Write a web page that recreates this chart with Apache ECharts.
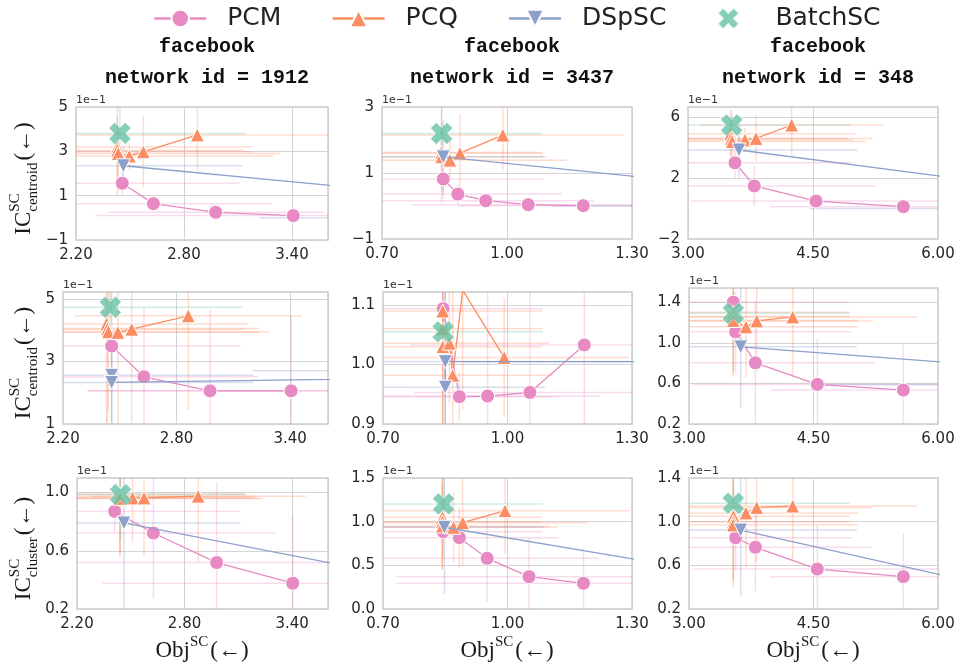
<!DOCTYPE html>
<html>
<head>
<meta charset="utf-8">
<script src="https://cdn.jsdelivr.net/npm/echarts@6/dist/echarts.min.js"></script>
<style>
  html, body { margin: 0; background: #fff; }
  #chart { width: 959px; height: 666px; }
</style>
</head>
<body>
<div id="chart"></div>
<script>
// each point: [obj, ic, objErr, icErr]  (ic in units of 1e-1)
const pcmR1_1912 = [[2.457,1.56,0.65,0.5],[2.63,0.64,0.66,0.3],[2.976,0.25,0.6,0.2],[3.407,0.10,1.1,0.25]];
const pcqR1_1912 = [[2.43,3.2,0.75,2.2],[2.43,3.05,0.7,1.5],[2.435,2.9,0.9,1.0],[2.496,2.79,0.8,0.6],[2.574,2.98,0.6,1.6],[2.874,3.74,0.75,1.6]];
const dspR1_1912 = [[2.463,2.35,0.66,0.9],[5.5,0.0,2.28,0.3]];
const batR1_1912 = [[2.444,3.81,0.7,1.5]];

const pcmR1_3437 = [[0.847,0.82,0.24,0.6],[0.882,0.36,0.25,0.3],[0.949,0.16,0.26,0.2],[1.051,0.04,0.28,0.2],[1.183,0.01,0.3,0.15]];
const pcqR1_3437 = [[0.843,1.62,0.24,1.5],[0.843,1.49,0.25,1.0],[0.863,1.39,0.28,0.6],[0.887,1.6,0.2,1.2],[0.99,2.15,0.29,1.1]];
const dspR1_3437 = [[0.847,1.49,0.24,1.1],[2.0,0.0,0.89,0.2]];
const batR1_3437 = [[0.843,2.2,0.24,1.0]];

const pcmR1_348 = [[3.564,3.0,1.4,1.0],[3.796,1.48,1.45,1.3],[4.536,0.49,1.5,0.5],[5.584,0.12,1.6,0.5]];
const pcqR1_348 = [[3.51,4.9,1.5,1.5],[3.52,4.6,1.4,1.2],[3.53,4.4,1.6,1.0],[3.684,4.5,1.3,0.8],[3.816,4.6,1.4,1.5],[4.244,5.48,1.1,2.0]];
const dspR1_348 = [[3.612,3.84,1.42,1.8],[9.0,0.0,4.54,0.3]];
const batR1_348 = [[3.524,5.48,1.42,1.0]];

const pcmR2_1912 = [[2.457,3.49,0.68,0.6],[2.628,2.51,0.6,2.2],[2.977,2.06,0.65,2.6],[3.405,2.06,1.07,2.4]];
const pcqR2_1912 = [[2.43,4.2,0.75,3.2],[2.435,4.05,0.8,3.0],[2.44,3.95,0.85,2.5],[2.49,3.93,0.75,3.0],[2.563,4.03,0.6,3.0],[2.862,4.46,0.6,3.0]];
const dspR2_1912 = [[2.457,2.56,0.75,1.5],[2.457,2.33,0.75,3.0],[7.0,2.7,3.8,0.3]];
const batR2_1912 = [[2.45,4.73,0.7,1.0]];

const pcmR2_3437 = [[0.845,1.094,0.24,0.04],[0.884,0.946,0.24,0.04],[0.952,0.947,0.27,0.2],[1.054,0.953,0.28,0.2],[1.185,1.033,0.42,0.15]];
const pcqR2_3437 = [[0.844,1.09,0.24,0.2],[0.844,1.06,0.24,0.2],[0.844,1.03,0.24,0.2],[0.86,1.036,0.24,0.1],[0.868,0.982,0.24,0.15],[0.892,1.125,0.25,0.2],[0.992,1.012,0.3,0.1]];
const dspR2_3437 = [[0.85,0.962,0.24,0.2],[0.85,1.005,0.24,0.2],[1.6,1.005,0.49,0.015]];
const batR2_3437 = [[0.845,1.055,0.24,0.05]];

const pcmR2_348 = [[3.534,1.40,1.4,0.1],[3.562,1.108,1.4,0.4],[3.80,0.803,1.44,0.6],[4.546,0.59,1.5,0.45],[5.582,0.534,1.6,0.45]];
const pcqR2_348 = [[3.534,1.30,1.4,0.6],[3.534,1.26,1.4,0.6],[3.534,1.22,1.5,0.5],[3.687,1.157,1.35,0.5],[3.816,1.216,1.4,0.5],[4.25,1.255,1.5,0.6]];
const dspR2_348 = [[3.623,0.96,1.4,0.6],[9.6,0.59,5.06,0.02]];
const batR2_348 = [[3.534,1.29,1.4,0.2]];

const pcmR3_1912 = [[2.41,0.871,0.7,0.15],[2.626,0.722,0.68,0.45],[2.979,0.519,0.8,0.55],[3.403,0.377,1.06,0.47]];
const pcqR3_1912 = [[2.44,0.99,0.7,0.4],[2.44,0.975,0.75,0.4],[2.44,0.96,0.8,0.4],[2.51,0.963,0.7,0.3],[2.574,0.963,0.6,0.4],[2.876,0.975,0.6,0.45]];
const dspR3_1912 = [[2.462,0.791,0.65,0.7],[4.6,0.28,1.0,0.1]];
const batR3_1912 = [[2.443,0.986,0.7,0.3]];

const pcmR3_3437 = [[0.845,0.885,0.24,0.3],[0.884,0.817,0.24,0.35],[0.951,0.58,0.27,0.5],[1.052,0.37,0.32,0.45],[1.183,0.294,0.45,0.4]];
const pcqR3_3437 = [[0.843,1.05,0.24,0.6],[0.843,1.0,0.24,0.5],[0.843,0.95,0.26,0.5],[0.87,0.936,0.25,0.4],[0.892,0.989,0.3,0.5],[0.994,1.126,0.3,0.5]];
const dspR3_3437 = [[0.848,0.936,0.24,0.77],[1.8,0.174,0.5,0.1]];
const batR3_3437 = [[0.846,1.203,0.24,0.3]];

const pcmR3_348 = [[3.562,0.853,1.4,0.3],[3.80,0.765,1.4,0.4],[4.546,0.566,1.5,0.4],[5.582,0.496,1.6,0.4]];
const pcqR3_348 = [[3.534,1.05,1.4,0.6],[3.534,1.0,1.4,0.6],[3.534,0.97,1.5,0.5],[3.687,1.08,1.35,0.5],[3.816,1.13,1.4,0.5],[4.25,1.143,1.5,0.5]];
const dspR3_348 = [[3.623,0.923,1.4,0.6],[8.0,0.18,1.0,0.1]];
const batR3_348 = [[3.534,1.168,1.4,0.2]];

const networks = ['1912', '3437', '348'];
const rowMetric = ['centroid', 'centroid', 'cluster'];
const methods = ['PCM', 'PCQ', 'DSpSC', 'BatchSC'];

const xTicks = [[2.2, 2.8, 3.4], [0.7, 1.0, 1.3], [3.0, 4.5, 6.0]];
const xMax = [3.6, 1.3, 6.0];
const yTicks = [
  [[-1, 1, 3, 5], [-1, 1, 3], [-2, 2, 6]],
  [[1, 3, 5], [0.9, 1.0, 1.1], [0.2, 0.6, 1.0, 1.4]],
  [[0.2, 0.6, 1.0], [0.0, 0.5, 1.0, 1.5], [0.2, 0.6, 1.0, 1.4]]
];
const yMax = [[5, 3, 6.66], [5.22, 1.122, 1.54], [1.1, 1.5, 1.4]];
const yDecimals = [[0, 0, 0], [0, 1, 1], [1, 1, 1]];

const panels = [
  [[pcmR1_1912, pcqR1_1912, dspR1_1912, batR1_1912], [pcmR1_3437, pcqR1_3437, dspR1_3437, batR1_3437], [pcmR1_348, pcqR1_348, dspR1_348, batR1_348]],
  [[pcmR2_1912, pcqR2_1912, dspR2_1912, batR2_1912], [pcmR2_3437, pcqR2_3437, dspR2_3437, batR2_3437], [pcmR2_348, pcqR2_348, dspR2_348, batR2_348]],
  [[pcmR3_1912, pcqR3_1912, dspR3_1912, batR3_1912], [pcmR3_3437, pcqR3_3437, dspR3_3437, batR3_3437], [pcmR3_348, pcqR3_348, dspR3_348, batR3_348]]
];

// layout: [left, top, width, height] per panel
const rects = [
  [[76, 107, 252, 133], [382, 107, 250, 132], [688, 107, 250, 132]],
  [[63, 292, 265, 132], [383, 292, 249, 132], [689, 288, 249, 136]],
  [[77, 478, 251, 131], [383, 478, 249, 131], [689, 478, 249, 131]]
];

const colors = { PCM: '#e78ac3', PCQ: '#fc8d62', DSpSC: '#8da0cb', BatchSC: '#66c2a5' };
const errColors = {
  PCM: 'rgba(231,138,195,0.3)', PCQ: 'rgba(252,141,98,0.3)',
  DSpSC: 'rgba(141,160,203,0.35)', BatchSC: 'rgba(102,194,165,0.3)'
};
const xShape = 'path://M0,2.6 L2.6,0 L5,2.4 L7.4,0 L10,2.6 L7.6,5 L10,7.4 L7.4,10 L5,7.6 L2.6,10 L0,7.4 L2.4,5 Z';
const SERIF = '"Liberation Serif", "DejaVu Serif", serif';

const ctx = document.createElement('canvas').getContext('2d');
function textWidth(text, size, family) {
  ctx.font = size + 'px ' + family;
  return ctx.measureText(text).width;
}

// IC^{SC}_{sub}(←) style label built from pieces
function mathLabel(cx, cy, base, sup, sub, tail, rotated) {
  const big = 23, small = 15;
  const wb = textWidth(base, big, SERIF);
  const ws = Math.max(textWidth(sup, small, SERIF), sub ? textWidth(sub, small, SERIF) : 0);
  const wt = textWidth(tail, big, SERIF);
  const x0 = -(wb + ws + 2 + wt) / 2;
  const piece = (x, y, text, size) => ({
    type: 'text',
    style: { x, y, text, font: size + 'px ' + SERIF, fill: '#1a1a1a', verticalAlign: 'middle', textVerticalAlign: 'middle' }
  });
  const children = [piece(x0, 0, base, big), piece(x0 + wb, -9, sup, small)];
  if (sub) children.push(piece(x0 + wb, 9, sub, small));
  children.push(piece(x0 + wb + ws + 2, 0, tail, big));
  return { type: 'group', x: cx, y: cy, rotation: rotated ? Math.PI / 2 : 0, children };
}

const fmtNum = (v, d) => {
  const s = Math.abs(v).toFixed(d);
  return v < -1e-9 ? '\u2212' + s : s;
};

function errorBarRender(color) {
  return function (params, api) {
    const x = api.value(0), y = api.value(1), xe = api.value(2), ye = api.value(3);
    const l = api.coord([x - xe, y]), r = api.coord([x + xe, y]);
    const t = api.coord([x, y + ye]), b = api.coord([x, y - ye]);
    return {
      type: 'group',
      children: [
        { type: 'line', shape: { x1: l[0], y1: l[1], x2: r[0], y2: r[1] }, style: { stroke: color, lineWidth: 1.5 } },
        { type: 'line', shape: { x1: t[0], y1: t[1], x2: b[0], y2: b[1] }, style: { stroke: color, lineWidth: 1.5 } }
      ]
    };
  };
}

const grid = [], xAxis = [], yAxis = [], series = [], graphic = [];

for (let r = 0; r < 3; r++) {
  for (let c = 0; c < 3; c++) {
    const k = r * 3 + c;
    const [left, top, width, height] = rects[r][c];
    grid.push({ left, top, width, height, show: true, borderColor: '#cccccc', borderWidth: 1.5, containLabel: false });

    const xt = xTicks[c];
    xAxis.push({
      gridIndex: k, type: 'value', min: xt[0], max: xMax[c],
      interval: +(xt[1] - xt[0]).toFixed(6),
      axisLine: { show: false }, axisTick: { show: false },
      splitLine: { lineStyle: { color: '#d4d4d4', width: 1 } },
      axisLabel: {
        formatter: v => v.toFixed(2), fontSize: 15, color: '#262626', margin: 8,
        fontFamily: 'DejaVu Sans',
        showMaxLabel: Math.abs(xMax[c] - xt[xt.length - 1]) < 1e-9
      }
    });

    const yt = yTicks[r][c];
    const ym = yMax[r][c];
    yAxis.push({
      gridIndex: k, type: 'value', min: yt[0], max: ym,
      interval: +(yt[1] - yt[0]).toFixed(6),
      axisLine: { show: false }, axisTick: { show: false },
      splitLine: { lineStyle: { color: '#d4d4d4', width: 1 } },
      axisLabel: {
        formatter: v => fmtNum(v, yDecimals[r][c]), fontSize: 15, color: '#262626', margin: 8,
        fontFamily: 'DejaVu Sans',
        showMaxLabel: Math.abs(ym - yt[yt.length - 1]) < 1e-9
      }
    });

    const sets = panels[r][c];
    methods.forEach((m, i) => {
      series.push({
        type: 'custom', xAxisIndex: k, yAxisIndex: k, clip: true, z: 1, silent: true,
        renderItem: errorBarRender(errColors[m]), data: sets[i]
      });
    });
    const shapes = [['circle', 0, 14], ['triangle', 0, 14], ['triangle', 180, 14]];
    ['PCM', 'PCQ', 'DSpSC'].forEach((m, i) => {
      series.push({
        type: 'line', name: m, xAxisIndex: k, yAxisIndex: k, z: 3 + i, clip: true,
        data: sets[i].map(p => [p[0], p[1]]),
        symbol: shapes[i][0], symbolRotate: shapes[i][1], symbolSize: shapes[i][2],
        showAllSymbol: true,
        lineStyle: { color: colors[m], width: 1.3 },
        itemStyle: { color: colors[m], borderColor: '#fff', borderWidth: 1 },
        emphasis: { disabled: true }
      });
    });
    series.push({
      type: 'scatter', name: 'BatchSC', xAxisIndex: k, yAxisIndex: k, z: 8,
      data: sets[3].map(p => [p[0], p[1]]),
      symbol: xShape, symbolSize: 22,
      itemStyle: { color: colors.BatchSC, borderColor: '#fff', borderWidth: 0.6 },
      emphasis: { disabled: true }
    });

    // offset text
    graphic.push({
      type: 'text',
      style: { x: left, y: top - 1, text: '1e\u22121', font: '11px "DejaVu Sans"', fill: '#333',
        verticalAlign: 'bottom', textVerticalAlign: 'bottom' }
    });
  }
}

// column titles
for (let c = 0; c < 3; c++) {
  const [left, , width] = rects[0][c];
  const cx = left + width / 2 + 5;
  ['facebook', 'network id = ' + networks[c]].forEach((t, i) => {
    graphic.push({
      type: 'text',
      style: { x: cx, y: 47 + i * 31, text: t, font: 'bold 20px "Liberation Mono", monospace', fill: '#111',
        align: 'center', textAlign: 'center', verticalAlign: 'middle', textVerticalAlign: 'middle' }
    });
  });
  graphic.push(mathLabel(cx - 5, 651, 'Obj', 'SC', null, '(\u2190)', false));
}
// row labels
for (let r = 0; r < 3; r++) {
  const [, top, , height] = rects[r][0];
  graphic.push(mathLabel(24, top + height / 2 + 5, 'IC', 'SC', rowMetric[r], '(\u2190)', true));
}

const chart = echarts.init(document.getElementById('chart'), null, { renderer: 'canvas' });
chart.setOption({
  animation: false,
  backgroundColor: '#fff',
  legend: {
    data: methods, left: 148, top: 1,
    itemWidth: 52, itemHeight: 22, itemGap: 50,
    lineStyle: { width: 2.5 },
    textStyle: { fontSize: 25, fontFamily: 'DejaVu Sans', color: '#222', padding: [0, 0, 0, 16] },
    selectedMode: false
  },
  grid, xAxis, yAxis, series, graphic
});
</script>
</body>
</html>
